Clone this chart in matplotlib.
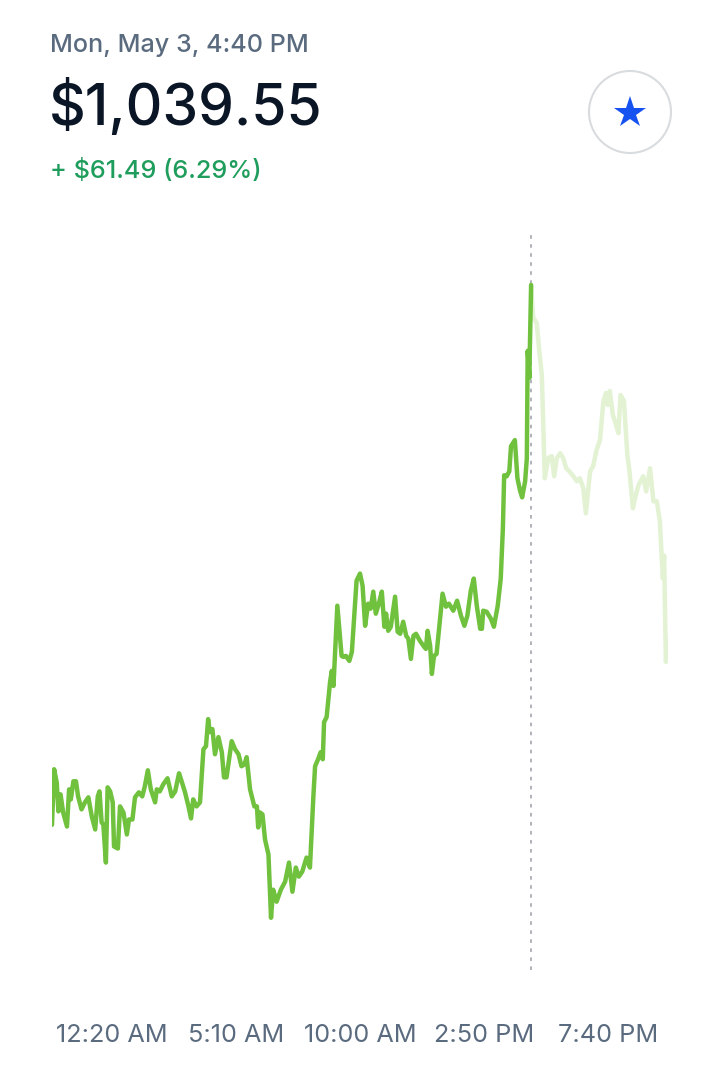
import matplotlib
matplotlib.use("Agg")
import matplotlib.pyplot as plt
from matplotlib.patches import Ellipse
from matplotlib.lines import Line2D

# ---- data -------------------------------------------------------------
# minutes since 10:00 PM (May 2); price in USD
times = [0, 5, 11, 15, 20, 26, 35, 40, 44, 50, 56, 61, 69, 77, 85, 93, 101, 107, 111, 116,
         120, 126, 130, 136, 142, 145, 154, 159, 167, 175, 180, 188, 194, 203, 211, 217, 224, 231, 241, 245,
         252, 260, 270, 280, 288, 297, 303, 311, 319, 325, 330, 338, 346, 354, 360, 365, 369, 375, 381, 389,
         397, 402, 408, 420, 428, 436, 443, 450, 455, 463, 473, 479, 482, 486, 492, 498, 506, 512, 517, 525,
         535, 545, 554, 562, 570, 577, 585, 595, 603, 611, 615, 622, 628, 633, 636, 642, 650, 654, 658, 667,
         677, 681, 687, 695, 701, 712, 720, 726, 732, 739, 745, 751, 757, 764, 771, 777, 781, 786, 792, 802,
         808, 814, 821, 828, 833, 839, 845, 851, 860, 870, 874, 878, 884, 888, 893, 899, 913, 921, 928, 938,
         947, 956, 964, 971, 979, 986, 993, 1001, 1005, 1008, 1016, 1026, 1033, 1042, 1049, 1054, 1057, 1063, 1069, 1073,
         1082, 1088, 1094, 1099, 1106, 1110, 1112, 1116, 1117, 1120,
         1125, 1133, 1139, 1145, 1152, 1160, 1168, 1174, 1180, 1188, 1195, 1202, 1209, 1219, 1227, 1234, 1242, 1248, 1258, 1265,
         1273, 1281, 1289, 1295, 1299, 1304, 1311, 1316, 1324, 1329, 1337, 1345, 1350, 1358, 1363, 1371, 1382, 1389, 1398, 1406,
         1414, 1421, 1425, 1428, 1431, 1435, 1440]
prices = [978.06, 984.39, 982.90, 979.59, 981.53, 979.47, 977.87, 982.10, 980.96, 983.02, 983.02, 981.30, 979.82, 980.62, 981.19, 979.02, 977.53, 981.30, 981.87, 978.33,
          978.10, 973.76, 982.33, 981.87, 980.62, 975.59, 975.36, 980.16, 979.47, 976.96, 978.67, 978.67, 981.19, 981.76, 981.30, 982.45, 984.27, 982.10, 980.62, 982.10,
          981.87, 982.67, 983.36, 981.30, 981.87, 983.93, 983.02, 981.76, 980.16, 978.79, 980.96, 980.16, 980.62, 986.67, 987.02, 990.10, 988.62, 988.96, 986.10, 988.05,
          986.33, 983.47, 983.47, 987.59, 986.67, 986.10, 984.73, 984.96, 985.76, 982.10, 980.16, 980.16, 977.76, 979.47, 979.25, 976.39, 974.67, 967.47, 970.67, 969.30,
          970.67, 971.59, 973.76, 970.44, 973.19, 972.16, 972.73, 974.33, 973.19, 981.30, 984.73, 985.53, 986.33, 985.53, 989.76, 990.33, 994.33, 995.59, 993.88, 1003.02,
          997.30, 997.19, 997.30, 996.73, 997.76, 1005.88, 1006.68, 1005.31, 1000.73, 1003.25, 1002.68, 1004.62, 1002.11, 1003.25, 1004.62, 1000.62, 1002.11, 1000.16, 1000.62, 1004.05,
          1000.05, 999.82, 1001.19, 999.59, 999.25, 996.96, 999.59, 999.82, 999.02, 998.33, 998.10, 1000.16, 998.45, 995.25, 997.30, 997.53, 1004.39, 1002.91, 1003.25, 1002.45,
          1003.59, 1001.88, 1000.73, 1001.88, 1004.73, 1006.11, 1003.02, 1000.39, 1000.39, 1002.45, 1002.33, 1001.53, 1000.62, 1003.02, 1006.11, 1011.82, 1017.88, 1017.76, 1018.34, 1021.19,
          1021.88, 1017.54, 1016.16, 1015.36, 1017.19, 1019.82, 1032.05, 1028.97, 1032.17, 1039.55,
          1035.82, 1035.25, 1032.05, 1029.31, 1017.54, 1019.82, 1020.05, 1017.76, 1019.82, 1020.39, 1019.82, 1018.68, 1018.34, 1017.76, 1017.19, 1017.54, 1016.39, 1013.54, 1018.34, 1018.91,
          1020.74, 1021.88, 1026.34, 1027.25, 1025.88, 1027.48, 1024.74, 1024.05, 1022.68, 1027.02, 1026.34, 1020.16, 1018.34, 1014.11, 1015.25, 1016.74, 1017.76, 1016.05, 1018.68, 1014.91,
          1014.91, 1012.62, 1008.73, 1006.11, 1008.73, 996.62, 999.02]

cursor_time = 1120          # 4:40 PM
tick_times = [140, 430, 720, 1010, 1300]
tick_labels = ["12:20 AM", "5:10 AM", "10:00 AM", "2:50 PM", "7:40 PM"]

date_label = "Mon, May 3, 4:40 PM"
price_label = "$1,039.55"
change_label = "+ $61.49 (6.29%)"

# ---- figure -----------------------------------------------------------
W, H = 719, 1065
fig = plt.figure(figsize=(W / 100, H / 100), dpi=100)
fig.patch.set_facecolor("white")
FONT = ["Inter", "DejaVu Sans"]

def fx(px):
    return px / W

def fy(py):
    return 1 - py / H

ax = fig.add_axes([fx(52), fy(970), fx(668) - fx(52), (970 - 235) / H])
ax.set_facecolor("white")

ci = times.index(cursor_time)
ax.plot(times[ci:], prices[ci:], color="#e2f2d3", lw=3.2, solid_joinstyle="round",
        solid_capstyle="round", zorder=2)
ax.plot(times[:ci + 1], prices[:ci + 1], color="#70c13d", lw=3.2, solid_joinstyle="round",
        solid_capstyle="round", zorder=3)
ax.axvline(cursor_time, color="#a9adb3", lw=1.3, linestyle=(0, (2, 3)), zorder=1)

pmin, pmax = min(prices), max(prices)
rng = pmax - pmin
ax.set_ylim(pmin - rng * 0.0825, pmax + rng * 0.079)
ax.set_xlim(0, 1440)

for s in ax.spines.values():
    s.set_visible(False)
ax.set_yticks([])
ax.set_xticks(tick_times, tick_labels)
ax.tick_params(axis="x", length=0, pad=39, labelsize=18.2, labelcolor="#5b6b7f")
for lab in ax.get_xticklabels():
    lab.set_family(FONT)

# ---- header -----------------------------------------------------------
fig.text(fx(50), fy(52), date_label, fontsize=18.1, color="#5b6b7f", family=FONT,
         fontweight="medium", va="baseline", ha="left")
fig.text(fx(49), fy(125), price_label, fontsize=41, color="#0a1626", family=FONT,
         fontweight="medium", va="baseline", ha="left")
fig.text(fx(50), fy(178), change_label, fontsize=18.2, color="#1f9d5c", family=FONT,
         fontweight="medium", va="baseline", ha="left")

fig.add_artist(Ellipse((fx(630), fy(112)), 82 / W, 82 / H, transform=fig.transFigure,
                       facecolor="white", edgecolor="#d9dcdf", lw=1.5))
fig.add_artist(Line2D([fx(630)], [fy(113)], transform=fig.transFigure, marker="*",
                      markersize=24, color="#1652f0", markeredgewidth=0))

fig.savefig("out.png", dpi=100, facecolor="white")
